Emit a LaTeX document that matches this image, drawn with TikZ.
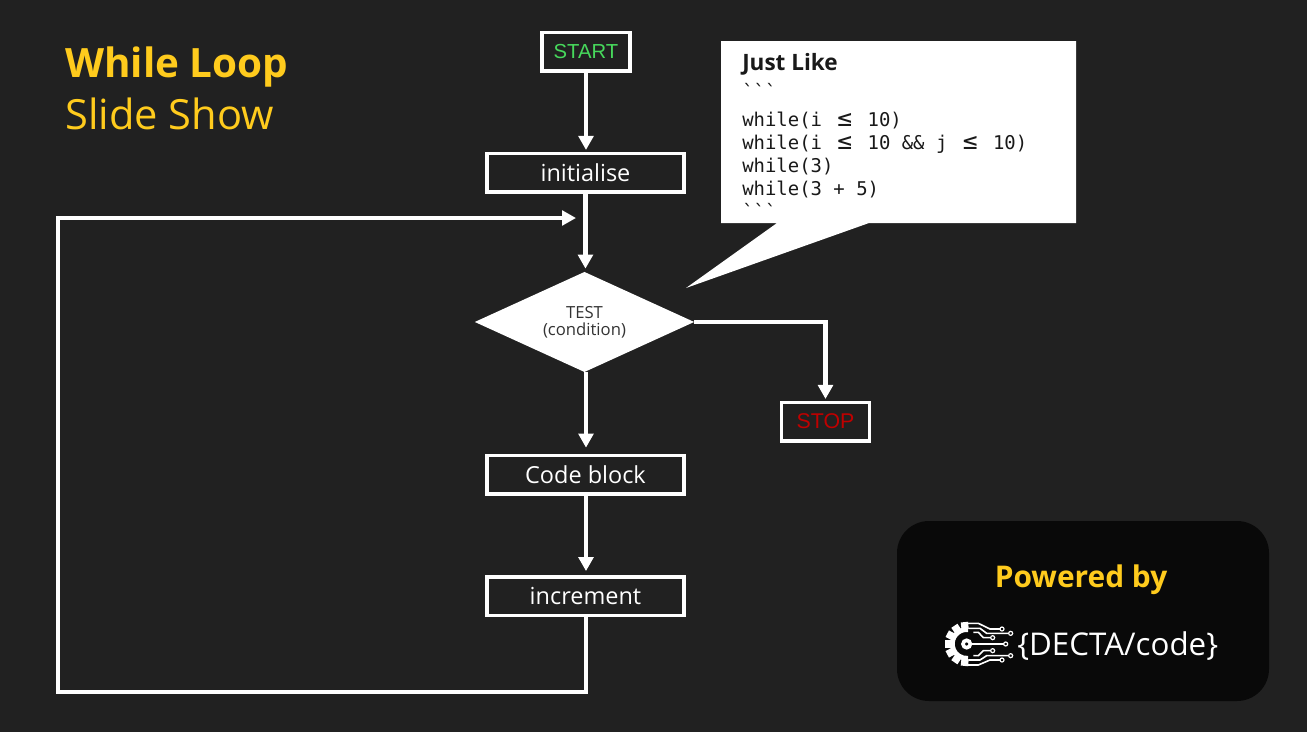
\documentclass[tikz,border=0pt]{standalone}
\usepackage{fontspec}
\setmainfont{Open Sans}
\newfontfamily\arialfont{Liberation Sans}
\newfontfamily\codefont{DejaVu Sans Mono}
\usetikzlibrary{positioning, shapes.geometric, arrows.meta}
\definecolor{bgdark}{HTML}{212121}
\definecolor{panel}{HTML}{090909}
\definecolor{myyellow}{HTML}{FFCB1D}
\definecolor{mygreen}{HTML}{47D95C}
\definecolor{myred}{HTML}{C00000}
\definecolor{mygrey}{HTML}{333333}
\newcommand{\leqc}{\makebox[1.204em]{\scalebox{1.3}{≤}}}
\tikzset{
  flow/.style={draw=white, line width=3.7pt, -{Triangle[length=10.5pt, width=11pt]}, shorten >=2.5pt},
  stepbox/.style={draw=white, line width=2.7pt, text=white, outer sep=0pt, inner sep=0pt,
    minimum width=147.5pt, minimum height=28.8pt, font=\fontsize{17.6}{20}\selectfont},
  termbox/.style={stepbox, minimum width=66pt},
}
\begin{document}
\begin{tikzpicture}[x=0.75pt, y=-0.75pt]
  \useasboundingbox (0,0) rectangle (1307,732);
  \fill[bgdark] (0,0) rectangle (1307,732);

  % titles
  \node[anchor=base west, inner sep=0, text=myyellow, font=\fontsize{30.3}{36}\selectfont\bfseries] (title) at (65,77) {While Loop};
  \node[anchor=base west, inner sep=0, text=myyellow, font=\fontsize{31.2}{36}\selectfont] (subtitle) at (65,129) {Slide Show};

  % flow chart
  \node[termbox, text=mygreen, font=\arialfont\fontsize{15.2}{18}\selectfont] (start) at (586,51.5) {START};
  \node[stepbox, below=61.95pt of start, xshift=-0.4pt] (init) {initialise};
  \node[diamond, fill=white, text=mygrey, inner sep=0, outer sep=0, aspect=2.2, minimum width=164.5pt, minimum height=75pt, align=center,
    font=\fontsize{12.5}{12.75}\selectfont, below=60.2pt of init, xshift=-0.75pt] (test) {TEST\\(condition)};
  \node[stepbox, below=62.75pt of test, xshift=0.75pt] (code) {Code block};
  \node[stepbox, below=62.3pt of code] (inc) {increment};
  \node[termbox, text=myred, font=\arialfont\fontsize{16}{18}\selectfont] (stop) at (825.5,421.5) {STOP};
  \coordinate (loopcorner) at (58,692);
  \coordinate (loopend) at (576,218);

  \draw[flow] (start) -- (start |- init.north);
  \draw[flow] (init) -- (init |- test.north);
  \draw[flow, shorten >=6pt] (start |- test.south) -- (start |- code.north);
  \draw[flow, shorten >=4.5pt] (start |- code.south) -- (start |- inc.north);
  \draw[flow] (test.east) -| (stop.north);
  \draw[flow, line join=miter, shorten >=0pt] (start |- inc.south) -- (start |- loopcorner) -- (loopcorner) -- (loopcorner |- loopend) -- (loopend);

  % callout
  \fill[white] (721,41) -- (1076,41) -- (1076,223) -- (869,223) -- (686,288) -- (777,223) -- (721,223) -- cycle;
  \node[anchor=base west, inner sep=0, font=\fontsize{16.9}{20}\selectfont\bfseries, text=black!90] (like) at (742,70) {Just Like};
  \node[anchor=north west, inner sep=0, text=black!90, font=\codefont\fontsize{14.2}{17.25}\selectfont] (ticks) at (742,83) {```};
  \node[anchor=north west, inner sep=0, align=left, text=black!90, font=\codefont\fontsize{14.2}{17.25}\selectfont] (snippet) at (742,112) {while(i~\leqc~10)\\
    while(i~\leqc~10~\&\&~j~\leqc~10)\\
    while(3)\\
    while(3~+~5)\\
    ```};

  % logo panel
  \fill[panel, rounded corners=24pt] (897,521) rectangle (1269,701);
  \node[anchor=base, inner sep=0, text=myyellow, font=\fontsize{22.4}{26}\selectfont\bfseries] (powered) at (1081,587) {Powered by};
  \begin{scope}[shift={(940,615)}, x=0.25pt, y=-0.25pt, line width=1.2pt, white]
    \foreach \a in {96,124,...,264}
      \fill[rotate around={\a:(80,87)}] (125,76) rectangle (146,98);
    \draw[line width=3.5pt] (84,44) arc[start angle=-85, end angle=-275, radius=43];
    \draw[line width=2.75pt] (80,87) circle (11);
    \draw (96,87) -- (192,87);
    \draw (80,25) -- (115,25) -- (150,42) -- (180,42);
    \draw (85,40) -- (120,40) -- (140,55) -- (206,55);
    \draw (100,52) -- (115,52) -- (130,68) -- (152,68);
    \draw (100,122) -- (115,122) -- (130,107) -- (152,107);
    \draw (85,135) -- (120,135) -- (140,122) -- (206,122);
    \draw (80,150) -- (115,150) -- (150,135) -- (180,135);
    \foreach \x/\y in {186/42, 212/55, 158/68, 197/87, 158/107, 212/122, 186/135}
      \draw[line width=.9pt] (\x,\y) circle (6);
  \end{scope}
  \node[anchor=base west, inner sep=0, text=white, font=\fontsize{23.5}{28}\selectfont] (logotext) at (1017,655) {\{DECTA/code\}};
\end{tikzpicture}
\end{document}
